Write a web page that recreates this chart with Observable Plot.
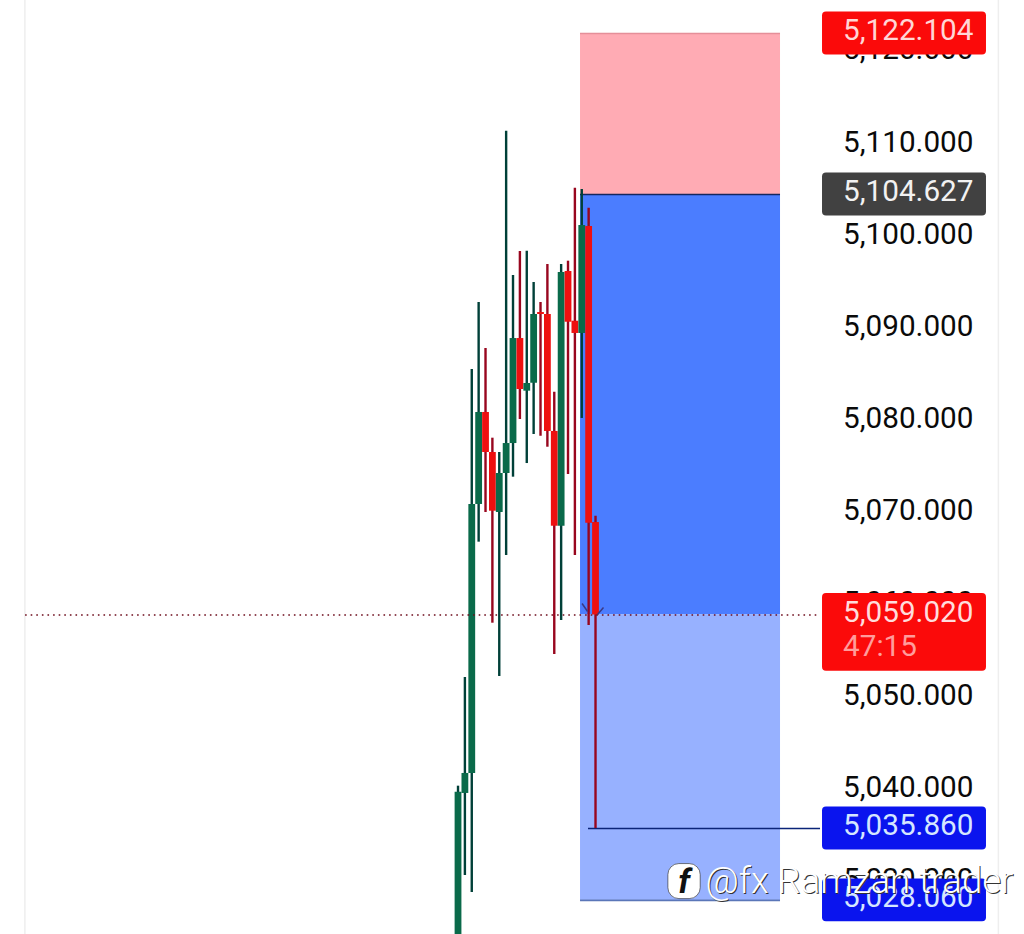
<!DOCTYPE html>
<html>
<head>
<meta charset="utf-8">
<script src="https://cdn.jsdelivr.net/npm/d3@7"></script>
<script src="https://cdn.jsdelivr.net/npm/@observablehq/plot@0.6"></script>
<style>
html,body{margin:0;padding:0;background:#fff;overflow:hidden}
svg{display:block}
</style>
</head>
<body>
<div id="chart"></div>
<script>
const opens  = [5020,5039.66,5041.83,5071.01,5080.99,5076.65,5070.14,5074.37,5077.62,5089.01,5083.30,5084.16,5091.83,5091.62,5078.93,5068.65,5096.28,5090.89,5089.56,5101.16,5069.05];
const highs  = [5040.45,5052.24,5085.65,5092.92,5087.93,5078.20,5076.65,5111.50,5095.85,5098.45,5098.48,5095.09,5092.92,5097.04,5083.19,5097.04,5097.40,5105.32,5105.18,5103.15,5069.74];
const lows   = [5015,5030.76,5028.92,5066.92,5070.14,5058.13,5052.35,5065.47,5073.97,5080.23,5075.45,5078.60,5078.41,5077.22,5054.73,5058.42,5074.26,5065.47,5080.34,5057.88,5035.86];
const closes = [5039.80,5041.83,5071.01,5080.99,5076.65,5070.28,5074.37,5077.62,5089.01,5083.48,5084.13,5091.62,5091.62,5078.93,5068.65,5096.17,5090.78,5089.56,5101.27,5068.98,5059.02];
const candles = opens.map((o,i)=>({i,o,h:highs[i],l:lows[i],c:closes[i]}));

const tickValues = [5030,5040,5050,5060,5070,5080,5090,5100,5110,5120];
const stopLoss = 5122.104, entry = 5104.627, last = 5059.02, pending = 5035.86, takeProfit = 5028.06;
const countdown = "47:15";
const watermark = "@fx Ramzan trader";

const xDomain = [-66.55, 82.4];
const yDomain = [5024.36, 5125.68];
const boxX = [17.82, 46.91];
const badgeX = [53.02, 76.87];
const labelX = 56.0;
const guideEnd = 52.73;
const badgeHalf = 2.33;

const zones = [
  {y1: entry, y2: stopLoss, fill: "#ffabb4"},
  {y1: last, y2: entry, fill: "#4b7dff"},
  {y1: takeProfit, y2: last, fill: "#97b1ff"}
];
const badges = [
  {v: stopLoss, top: stopLoss+badgeHalf, bottom: stopLoss-badgeHalf, fill: "#fb0a0a", text: "#ffd6d6"},
  {v: entry, top: entry+badgeHalf, bottom: entry-badgeHalf, fill: "#414141", text: "#f2f2f2"},
  {v: pending, top: pending+badgeHalf, bottom: pending-badgeHalf, fill: "#0a14ee", text: "#d5e6ff"},
  {v: takeProfit, top: takeProfit+badgeHalf, bottom: takeProfit-badgeHalf, fill: "#0a14ee", text: "#d5e6ff"},
  {v: last, top: last+badgeHalf, bottom: last-6.1, fill: "#fb0a0a", text: "#ffdcdc"}
];
const fmt = d3.format(",.3f");
const FONT = "Roboto";

const edges = [
  {x1: boxX[0], x2: boxX[1], y: stopLoss, stroke: "#e58f99"},
  {x1: boxX[0], x2: boxX[1], y: entry, stroke: "#14275f"},
  {x1: boxX[0], x2: boxX[1], y: takeProfit, stroke: "#5a76b8"},
  {x1: 18.98, x2: guideEnd, y: pending, stroke: "#0b2478"}
];
const chevrons = [
  {x1: 18.04, y1: 5060.27, x2: 18.84, y2: 5059.40},
  {x1: 21.16, y1: 5059.83, x2: 20.29, y2: 5059.08}
];

const plot = Plot.plot({
  width: 1024, height: 934,
  marginTop: 0, marginRight: 0, marginBottom: 0, marginLeft: 0,
  x: {domain: xDomain, axis: null},
  y: {domain: yDomain},
  style: {background: "#fff", fontFamily: FONT},
  marks: [
    Plot.ruleX([-63, 78.6], {stroke: "#eeeeee", strokeWidth: 1.5}),
    Plot.rect(zones, {x1: boxX[0], x2: boxX[1], y1: "y1", y2: "y2", fill: "fill"}),
    Plot.ruleY(edges, {x1: "x1", x2: "x2", y: "y", stroke: "stroke", strokeWidth: 1.6}),
    Plot.ruleX(candles, {x: "i", y1: "l", y2: "h", stroke: d => d.c >= d.o ? "#004038" : "#98061e", strokeWidth: 2.4, clip: true}),
    Plot.ruleX(candles, {x: "i", y1: "o", y2: "c", stroke: d => d.c >= d.o ? "#0a6a4a" : "#ee1010", strokeWidth: 6.8, clip: true}),
    Plot.link(chevrons, {x1: "x1", y1: "y1", x2: "x2", y2: "y2", stroke: "#3a3a86", strokeWidth: 1.5}),
    Plot.ruleY([last], {x1: -62.9, x2: guideEnd, stroke: "#6e0c1c", strokeWidth: 1.6, strokeDasharray: "1.6 4"}),
    Plot.axisY(tickValues, {anchor: "left", x: labelX, tickSize: 0, tickPadding: 0, label: null, textAnchor: "start",
      tickFormat: fmt, fontSize: 29.7, fill: "#0a0a0a", dy: -3}),
    Plot.rect(badges, {x1: badgeX[0], x2: badgeX[1], y1: "bottom", y2: "top", fill: "fill", rx: 4}),
    Plot.text(badges, {x: labelX, y: "v", text: d => fmt(d.v), fill: "text", fontSize: 29.7, textAnchor: "start", dy: -3}),
    Plot.text([countdown], {x: labelX, y: last, text: d => d, fill: "#ff9c9c", fontSize: 29.7, textAnchor: "start", dy: 31}),
    // watermark
    Plot.rect([0], {x1: 30.6, x2: 35.3, y1: 5028.2, y2: 5032, fill: "#fff", stroke: "#222", strokeWidth: 0.6, rx: 11}),
    Plot.text(["f"], {x: 32.9, y: 5030.1, text: d => d, fill: "#111", fontSize: 34, fontWeight: 700, fontStyle: "italic", dy: 1}),
    Plot.text([watermark], {x: 36, y: 5030.11, text: d => d, fill: "#333", fontSize: 36.5, fontWeight: 300, textAnchor: "start", dx: 1, dy: 1}),
    Plot.text([watermark], {x: 36, y: 5030.11, text: d => d, fill: "#fff", fontSize: 36.5, fontWeight: 300, textAnchor: "start"})
  ]
});
document.getElementById("chart").appendChild(plot);
</script>
</body>
</html>
